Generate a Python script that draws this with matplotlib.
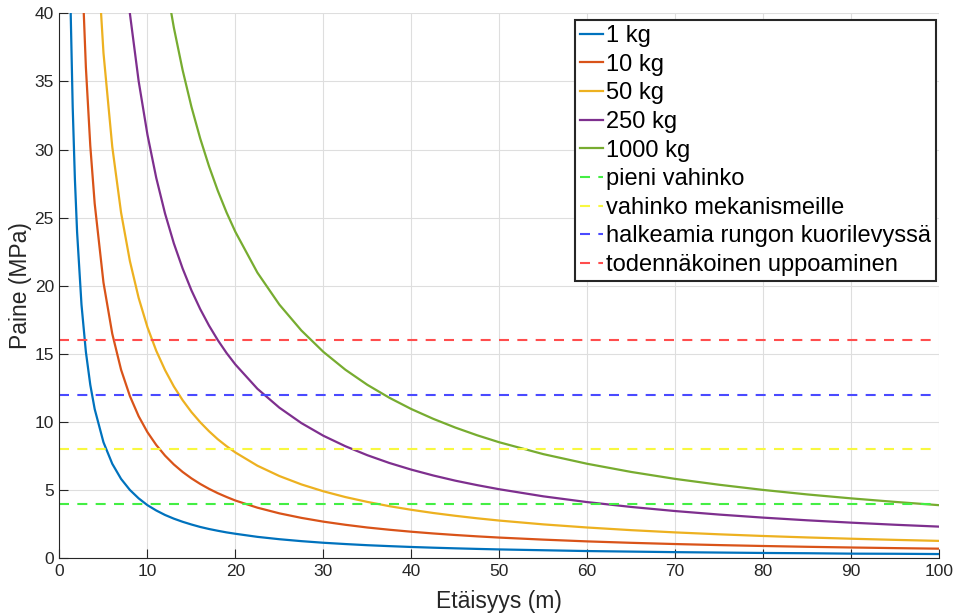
import matplotlib
matplotlib.use("Agg")
import matplotlib.pyplot as plt

# Distance (m)
distance = [1, 1.25, 1.5, 1.75, 2, 2.5, 3, 3.5, 4, 5, 6, 7, 8, 9, 10, 11, 12, 13, 14,
            15, 16, 17, 18, 19, 20, 22.5, 25, 27.5, 30, 32.5, 35, 37.5, 40, 42.5, 45,
            47.5, 50, 55, 60, 65, 70, 75, 80, 85, 90, 95, 100]

# Pressure (MPa) for each charge mass
p_1kg = [52.40, 40.72, 33.14, 27.84, 23.94, 18.61, 15.14, 12.72, 10.94, 8.50, 6.92,
         5.81, 5.00, 4.38, 3.88, 3.49, 3.16, 2.89, 2.66, 2.46, 2.28, 2.13, 2.00, 1.88,
         1.78, 1.553, 1.38, 1.238, 1.12, 1.025, 0.94, 0.872, 0.81, 0.757, 0.71, 0.668,
         0.63, 0.57, 0.51, 0.47, 0.43, 0.40, 0.37, 0.35, 0.32, 0.31, 0.29]
p_10kg = [124.7, 96.9, 78.9, 66.3, 57.0, 44.3, 36.04, 30.28, 26.04, 20.23, 16.47,
          13.83, 11.90, 10.41, 9.24, 8.30, 7.52, 6.87, 6.32, 5.85, 5.44, 5.08, 4.76,
          4.48, 4.22, 3.697, 3.28, 2.947, 2.67, 2.440, 2.24, 2.076, 1.93, 1.802, 1.69,
          1.589, 1.50, 1.35, 1.22, 1.115, 1.025, 0.948, 0.882, 0.823, 0.772, 0.726,
          0.685]
p_50kg = [228.7, 177.7, 144.6, 121.5, 104.5, 81.2, 66.1, 55.5, 47.75, 37.10, 30.20,
          25.37, 21.82, 19.10, 16.95, 15.22, 13.80, 12.60, 11.59, 10.72, 9.97, 9.31,
          8.72, 8.21, 7.75, 6.780, 6.02, 5.405, 4.90, 4.476, 4.12, 3.807, 3.54, 3.305,
          3.10, 2.915, 2.75, 2.47, 2.24, 2.045, 1.880, 1.740, 1.617, 1.510, 1.416,
          1.332, 1.257]
p_250kg = [419.4, 325.9, 265.2, 222.8, 191.6, 148.9, 121.2, 101.8, 87.6, 68.04, 55.38,
           46.52, 40.01, 35.02, 31.09, 27.92, 25.30, 23.11, 21.26, 19.66, 18.28, 17.07,
           16.00, 15.05, 14.21, 12.43, 11.04, 9.91, 8.98, 8.21, 7.55, 6.98, 6.49, 6.06,
           5.68, 5.35, 5.05, 4.53, 4.105, 3.750, 3.448, 3.190, 2.966, 2.769, 2.597,
           2.442, 2.305]
p_1000kg = [706.9, 549.3, 447.0, 375.6, 323.0, 251.0, 204.3, 171.6, 147.6, 114.7, 93.34,
            78.42, 67.43, 59.03, 52.40, 47.05, 42.65, 38.96, 35.83, 33.14, 30.81, 28.77,
            26.97, 25.37, 23.95, 20.96, 18.61, 16.71, 15.14, 13.83, 12.72, 11.77, 10.94,
            10.22, 9.58, 9.01, 8.50, 7.63, 6.92, 6.32, 5.81, 5.38, 5.00, 4.67, 4.38,
            4.12, 3.88]

curve_labels = ["1 kg", "10 kg", "50 kg", "250 kg", "1000 kg"]
curves = [p_1kg, p_10kg, p_50kg, p_250kg, p_1000kg]
curve_colors = ["#0072BD", "#D95319", "#EDB120", "#7E2F8E", "#77AC30"]

# Damage thresholds (MPa)
threshold_labels = ["pieni vahinko", "vahinko mekanismeille",
                    "halkeamia rungon kuorilevyssä", "todennäkoinen uppoaminen"]
threshold_values = [4, 8, 12, 16]
threshold_colors = ["#44ee44", "#f8f840", "#4a4aff", "#ff4d4d"]

plt.rcParams['font.family'] = ['Liberation Sans', 'DejaVu Sans']

fig = plt.figure(figsize=(9.55, 6.14), dpi=100)
ax = fig.add_axes([0.0623, 0.0912, 0.921, 0.887])

for lab, vals, col in zip(curve_labels, curves, curve_colors):
    ax.plot(distance, vals, color=col, lw=1.6, label=lab, solid_joinstyle="round")

for lab, val, col in zip(threshold_labels, threshold_values, threshold_colors):
    ax.axhline(val, color=col, lw=1.5, dashes=(4.8, 4.0), label=lab)

ax.set_xlim(0, 100)
ax.set_ylim(0, 40)
ax.set_xticks(range(0, 101, 10))
ax.set_yticks(range(0, 41, 5))
ax.grid(True, color="#dedede", lw=0.8)
ax.set_axisbelow(True)
for s in ["top", "right"]:
    ax.spines[s].set_visible(False)
for s in ["left", "bottom"]:
    ax.spines[s].set_color("#262626")
    ax.spines[s].set_linewidth(0.8)
ax.tick_params(direction="in", length=6.5, width=0.8, colors="#262626",
               labelsize=12.5, pad=4)
ax.set_xlabel("Etäisyys (m)", fontsize=16.5, color="#262626", labelpad=8)
ax.set_ylabel("Paine (MPa)", fontsize=16.5, color="#262626", labelpad=2)

leg = ax.legend(loc="upper right", bbox_to_anchor=(0.9965, 0.988), fontsize=17,
                handlelength=1.0, handletextpad=0.1, labelspacing=0.28,
                borderpad=0.22, borderaxespad=0.0, fancybox=False, framealpha=1,
                edgecolor="#262626")
leg.get_frame().set_linewidth(1.5)

fig.savefig("out.png", dpi=100)
